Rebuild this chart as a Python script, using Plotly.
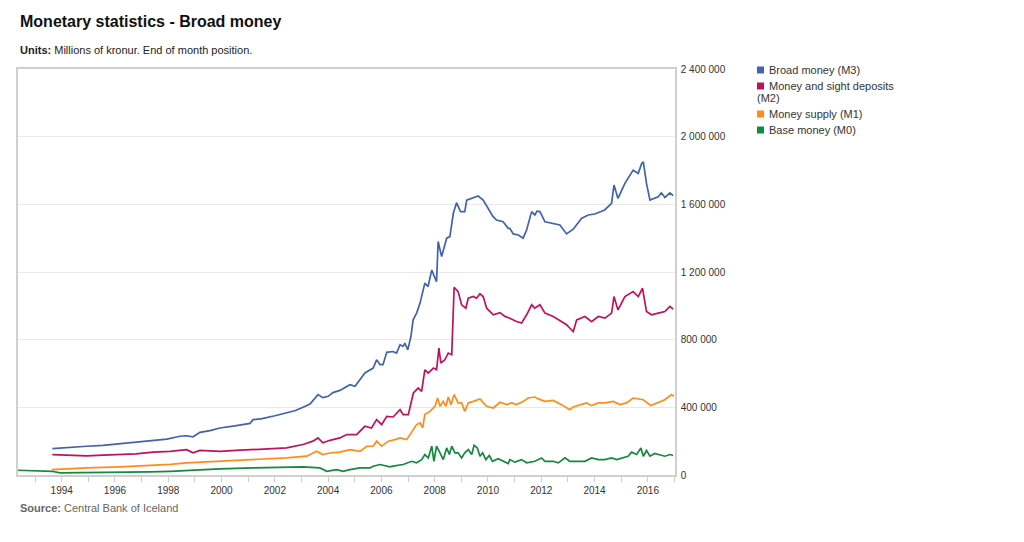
import plotly.graph_objects as go

# ---------------- data (millions of kronur) ----------------
series_names = ["Broad money (M3)", "Money and sight deposits", "Money supply (M1)", "Base money (M0)"]
series_colors = ["#4262ad", "#c0125a", "#ff8c1a", "#138a3e"]

m3_year = [1993.65, 1993.94, 1994.31, 1994.94, 1995.55, 1996.19, 1996.79, 1997.43, 1997.95, 1998.44,
           1998.67, 1998.93, 1999.19, 1999.57, 1999.94, 2000.50, 2001.07, 2001.18, 2001.52, 2002.00,
           2002.44, 2002.75, 2003.06, 2003.32, 2003.62, 2003.80, 2004.00, 2004.18, 2004.44, 2004.71,
           2004.82, 2005.01, 2005.19, 2005.38, 2005.69, 2005.82, 2005.95, 2006.06, 2006.20, 2006.43,
           2006.57, 2006.70, 2006.81, 2006.88, 2006.99, 2007.11, 2007.19, 2007.33, 2007.45, 2007.63,
           2007.75, 2007.89, 2007.97, 2008.07, 2008.13, 2008.26, 2008.45, 2008.57, 2008.70, 2008.82,
           2008.97, 2009.13, 2009.20, 2009.39, 2009.51, 2009.63, 2009.82, 2009.96, 2010.07, 2010.18,
           2010.32, 2010.57, 2010.76, 2010.82, 2010.95, 2011.14, 2011.32, 2011.45, 2011.64, 2011.76,
           2011.84, 2011.95, 2012.14, 2012.45, 2012.70, 2012.95, 2013.20, 2013.51, 2013.76, 2014.01,
           2014.38, 2014.64, 2014.73, 2014.88, 2015.14, 2015.45, 2015.64, 2015.77, 2015.83, 2015.95,
           2016.08, 2016.39, 2016.51, 2016.64, 2016.83, 2016.95]
m3_value = [156000, 160000, 163000, 170000, 175000, 184000, 192000, 203000, 212000, 229000,
            232000, 226000, 252000, 262000, 278000, 290000, 305000, 327000, 333000, 350000,
            367000, 380000, 400000, 420000, 475000, 457000, 465000, 487000, 500000, 525000,
            534000, 524000, 560000, 603000, 632000, 681000, 652000, 652000, 725000, 730000,
            721000, 770000, 760000, 780000, 740000, 820000, 917000, 960000, 1016000, 1134000,
            1114000, 1212000, 1180000, 1143000, 1380000, 1291000, 1400000, 1409000, 1547000, 1610000,
            1557000, 1557000, 1625000, 1636000, 1640000, 1649000, 1625000, 1590000, 1557000, 1530000,
            1507000, 1497000, 1458000, 1458000, 1425000, 1419000, 1400000, 1448000, 1557000, 1537000,
            1560000, 1557000, 1497000, 1488000, 1478000, 1425000, 1453000, 1517000, 1537000, 1543000,
            1567000, 1606000, 1714000, 1635000, 1724000, 1802000, 1783000, 1842000, 1851000, 1724000,
            1625000, 1645000, 1668000, 1641000, 1668000, 1651000]

m2_year = [1993.65, 1994.31, 1994.94, 1995.55, 1996.19, 1996.79, 1997.43, 1998.07, 1998.69, 1998.93,
           1999.19, 1999.94, 2000.54, 2001.18, 2001.82, 2002.44, 2003.06, 2003.43, 2003.62, 2003.80,
           2004.07, 2004.44, 2004.70, 2005.07, 2005.38, 2005.63, 2005.82, 2006.01, 2006.20, 2006.44,
           2006.70, 2006.82, 2007.01, 2007.20, 2007.38, 2007.51, 2007.63, 2007.76, 2007.95, 2008.07,
           2008.16, 2008.23, 2008.38, 2008.51, 2008.64, 2008.73, 2008.88, 2009.01, 2009.17, 2009.26,
           2009.45, 2009.57, 2009.70, 2009.82, 2009.95, 2010.20, 2010.45, 2010.64, 2010.82, 2011.07,
           2011.26, 2011.45, 2011.64, 2011.76, 2011.95, 2012.14, 2012.45, 2012.76, 2012.95, 2013.07,
           2013.20, 2013.33, 2013.64, 2013.89, 2014.14, 2014.39, 2014.64, 2014.73, 2014.88, 2015.14,
           2015.45, 2015.64, 2015.80, 2015.95, 2016.14, 2016.39, 2016.64, 2016.83, 2016.95]
m2_value = [121000, 118000, 113000, 117000, 120000, 125000, 135000, 140000, 150000, 131000,
            145000, 140000, 145000, 150000, 155000, 160000, 180000, 200000, 219000, 190000,
            205000, 219000, 239000, 239000, 288000, 278000, 327000, 298000, 347000, 343000,
            386000, 357000, 357000, 485000, 514000, 494000, 622000, 603000, 632000, 622000,
            750000, 662000, 681000, 721000, 711000, 1110000, 1084000, 1006000, 986000, 1045000,
            1055000, 1045000, 1071000, 1055000, 986000, 947000, 960000, 937000, 927000, 907000,
            898000, 947000, 1006000, 986000, 1006000, 957000, 937000, 907000, 888000, 869000,
            848000, 917000, 937000, 907000, 937000, 927000, 957000, 1055000, 976000, 1055000,
            1084000, 1055000, 1104000, 966000, 947000, 957000, 966000, 996000, 981000]

m1_year = [1993.63, 1994.31, 1994.94, 1996.19, 1997.43, 1998.07, 1998.69, 1999.30, 1999.94, 2000.54,
           2001.18, 2001.82, 2002.44, 2003.20, 2003.57, 2003.80, 2004.07, 2004.44, 2004.82, 2005.20,
           2005.45, 2005.69, 2005.82, 2006.01, 2006.26, 2006.51, 2006.70, 2006.95, 2007.13, 2007.32,
           2007.45, 2007.55, 2007.63, 2007.82, 2008.01, 2008.11, 2008.20, 2008.32, 2008.42, 2008.51,
           2008.61, 2008.73, 2008.88, 2009.01, 2009.13, 2009.26, 2009.45, 2009.70, 2009.95, 2010.20,
           2010.45, 2010.70, 2010.89, 2011.07, 2011.32, 2011.51, 2011.76, 2011.89, 2012.14, 2012.45,
           2012.76, 2012.95, 2013.07, 2013.20, 2013.45, 2013.70, 2013.89, 2014.14, 2014.39, 2014.70,
           2014.95, 2015.20, 2015.45, 2015.64, 2015.83, 2016.11, 2016.39, 2016.64, 2016.89, 2016.98]
m1_value = [32000, 38000, 42000, 48000, 56000, 63000, 72000, 76000, 81000, 86000,
            91000, 96000, 101000, 111000, 140000, 121000, 130000, 135000, 150000, 140000,
            170000, 170000, 200000, 170000, 200000, 209000, 219000, 209000, 249000, 298000,
            308000, 278000, 357000, 376000, 406000, 455000, 406000, 435000, 406000, 461000,
            416000, 475000, 426000, 426000, 376000, 426000, 435000, 450000, 406000, 396000,
            430000, 416000, 426000, 416000, 435000, 455000, 461000, 450000, 435000, 441000,
            416000, 396000, 386000, 402000, 416000, 426000, 410000, 426000, 426000, 435000,
            416000, 426000, 455000, 450000, 445000, 410000, 430000, 445000, 475000, 465000]

m0_year = [1992.36, 1993.00, 1993.63, 1993.94, 1995.06, 1996.19, 1997.32, 1998.07, 1999.19, 1999.94,
           2001.18, 2001.82, 2002.44, 2003.06, 2003.69, 2003.95, 2004.32, 2004.56, 2004.82, 2004.94,
           2005.19, 2005.57, 2005.69, 2005.95, 2006.07, 2006.32, 2006.44, 2006.82, 2007.13, 2007.32,
           2007.51, 2007.63, 2007.76, 2007.89, 2007.97, 2008.07, 2008.20, 2008.32, 2008.45, 2008.55,
           2008.64, 2008.76, 2008.88, 2009.01, 2009.13, 2009.26, 2009.39, 2009.48, 2009.60, 2009.70,
           2009.80, 2009.92, 2010.05, 2010.17, 2010.38, 2010.57, 2010.76, 2010.82, 2011.01, 2011.26,
           2011.45, 2011.76, 2012.01, 2012.14, 2012.45, 2012.64, 2012.89, 2013.07, 2013.26, 2013.64,
           2013.89, 2014.14, 2014.39, 2014.64, 2014.83, 2015.08, 2015.26, 2015.39, 2015.58, 2015.74,
           2015.83, 2015.95, 2016.08, 2016.26, 2016.45, 2016.64, 2016.83, 2016.95]
m0_value = [28000, 26000, 22000, 13000, 14000, 17000, 19000, 22000, 32000, 36000,
            42000, 44000, 48000, 48000, 42000, 22000, 32000, 22000, 32000, 36000,
            42000, 42000, 52000, 62000, 56000, 48000, 52000, 62000, 81000, 72000,
            91000, 121000, 101000, 170000, 81000, 170000, 131000, 91000, 160000, 121000,
            170000, 131000, 131000, 101000, 131000, 150000, 121000, 176000, 160000, 111000,
            131000, 91000, 115000, 81000, 96000, 81000, 68000, 91000, 76000, 91000,
            72000, 81000, 101000, 81000, 81000, 72000, 101000, 81000, 81000, 81000,
            101000, 91000, 91000, 101000, 91000, 101000, 111000, 135000, 121000, 160000,
            111000, 145000, 111000, 127000, 121000, 111000, 121000, 115000]

x_range = [1992.36, 2017.02]
y_ticks = [0, 400000, 800000, 1200000, 1600000, 2000000, 2400000]
year_ticks = list(range(1994, 2017, 2))

# ---------------- layout geometry ----------------
W, H = 1024, 542
ML, MR, MT, MB = 18, 349, 69, 67
PW, PH = W - ML - MR, H - MT - MB


def px_x(px):
    return (px - ML) / PW


def px_y(py):
    return 1 - (py - MT) / PH


FONT = "Liberation Sans, Arial, sans-serif"

fig = go.Figure()
for xs, ys, name, col in [(m3_year, m3_value, series_names[0], series_colors[0]),
                          (m2_year, m2_value, series_names[1], series_colors[1]),
                          (m1_year, m1_value, series_names[2], series_colors[2]),
                          (m0_year, m0_value, series_names[3], series_colors[3])]:
    fig.add_trace(go.Scatter(x=xs, y=ys, mode="lines", name=name,
                             line=dict(color=col, width=1.7), showlegend=False))

fig.update_layout(
    width=W, height=H,
    margin=dict(l=ML, r=MR, t=MT, b=MB, pad=0),
    paper_bgcolor="white", plot_bgcolor="white",
    separators=". ",
    font=dict(family=FONT, size=10, color="#333333"),
    xaxis=dict(range=x_range, tickvals=year_ticks, ticks="outside", ticklen=5,
               tickcolor="#cccccc", showgrid=False, zeroline=False,
               showline=True, linecolor="#d0d0d0", linewidth=1.5, mirror=True,
               minor=dict(dtick=1, tick0=1993, ticks="outside", ticklen=5, tickcolor="#cccccc"),
               tickfont=dict(size=10, color="#333333")),
    yaxis=dict(range=[0, 2400000], tickvals=y_ticks, tickformat=",d", side="right",
               showgrid=True, gridcolor="#e8e8e8", gridwidth=1, zeroline=False,
               showline=True, linecolor="#d0d0d0", linewidth=1.5, mirror=True,
               ticks="", ticklabelstandoff=2, tickfont=dict(size=10, color="#333333")),
    hovermode="x",
)

ann = []
ann.append(dict(text="<b>Monetary statistics - Broad money</b>", x=px_x(18), y=px_y(22),
                xref="paper", yref="paper", xanchor="left", yanchor="middle", showarrow=False,
                font=dict(size=16, color="#111111", family=FONT)))
ann.append(dict(text="<b>Units:</b> Millions of kronur. End of month position.", x=px_x(18), y=px_y(50),
                xref="paper", yref="paper", xanchor="left", yanchor="middle", showarrow=False,
                font=dict(size=11, color="#222222", family=FONT)))
ann.append(dict(text="<b>Source:</b> Central Bank of Iceland", x=px_x(18), y=px_y(508),
                xref="paper", yref="paper", xanchor="left", yanchor="middle", showarrow=False,
                font=dict(size=11, color="#666666", family=FONT)))

# legend built from the series names/colours
legend_rows = [(70, series_names[0]), (86, series_names[1]), (114, series_names[2]), (130, series_names[3])]
shapes = []
for i, (cy, label) in enumerate(legend_rows):
    shapes.append(dict(type="rect", xref="paper", yref="paper",
                       x0=px_x(757), x1=px_x(764), y0=px_y(cy + 3.5), y1=px_y(cy - 3.5),
                       fillcolor=series_colors[i], line=dict(width=0)))
    ann.append(dict(text=label, x=px_x(767), y=px_y(cy), xref="paper", yref="paper",
                    xanchor="left", yanchor="middle", showarrow=False,
                    font=dict(size=11, color="#333333", family=FONT)))
ann.append(dict(text="(M2)", x=px_x(755), y=px_y(98), xref="paper", yref="paper",
                xanchor="left", yanchor="middle", showarrow=False,
                font=dict(size=11, color="#333333", family=FONT)))

fig.update_layout(annotations=ann, shapes=shapes)
fig.write_html("out.html")
